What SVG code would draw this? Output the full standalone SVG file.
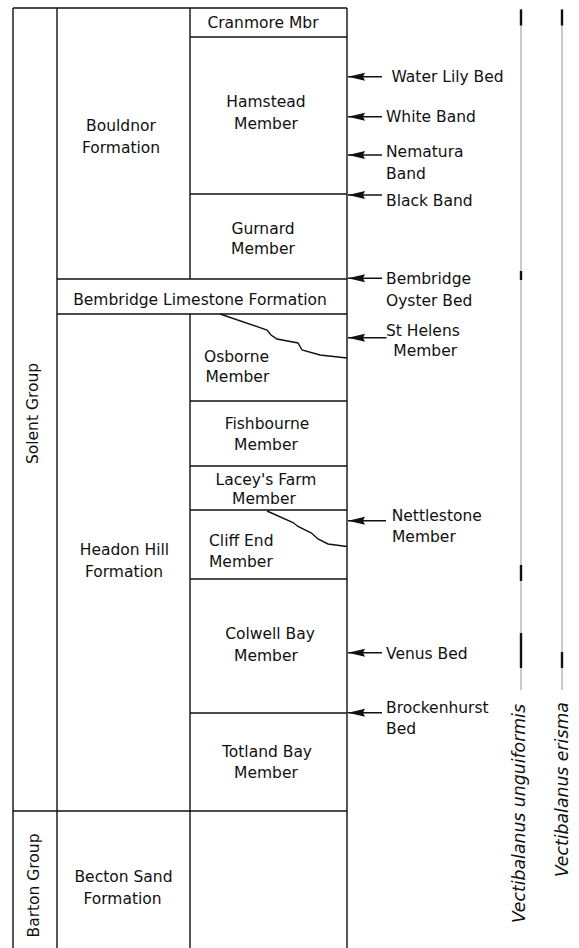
<svg xmlns="http://www.w3.org/2000/svg" width="579" height="948" viewBox="0 0 579 948">
<style>
.ln{stroke:#111;stroke-width:1.4;fill:none}
.t{font-family:"DejaVu Sans",Verdana,sans-serif;font-size:15.5px;fill:#111}
.c{text-anchor:middle}
.sp{font-family:"DejaVu Sans",Verdana,sans-serif;font-size:17.3px;font-style:italic;fill:#111}
.gr{stroke:#bdbdbd;stroke-width:1.6}
.bk{stroke:#111;stroke-width:2.4}
.ar{stroke:#111;stroke-width:1.4}
</style>
<defs>
<marker id="ah" viewBox="0 0 17 9" refX="17" refY="4.5" markerWidth="17" markerHeight="9" orient="auto" markerUnits="userSpaceOnUse">
<path d="M0,0.5 L17,4.5 L0,8.5 L2,4.5 Z" fill="#111"/>
</marker>
</defs>
<rect width="579" height="948" fill="#fff"/>
<g id="frame">
<path class="ln" d="M13,8 H347 M13,8 V948 M57,8 V948 M347,8 V948 M190,8 V279 M190,314 V948"/>
<path class="ln" d="M190,37 H347 M190,194 H347 M57,279 H347 M57,314 H347 M190,401 H347 M190,466 H347 M190,510 H347 M190,579 H347 M190,713 H347 M13,811 H347"/>
<path class="ln" d="M220,314 L267,330 L271,335 L277,339 L298,343 L302,350 L320,355 L347,358"/>
<path class="ln" d="M267,511 L293,522.5 L298,526.5 L311.5,533 L318,539 L328,544 L347,546.5"/>
</g>
<g id="solent-group"><text class="t c" transform="translate(38,413.5) rotate(-90)">Solent Group</text></g>
<g id="barton-group"><text class="t c" transform="translate(38.5,885.5) rotate(-90)">Barton Group</text></g>
<g id="bouldnor"><text class="t c" x="121" y="130.5">Bouldnor</text><text class="t c" x="121" y="153">Formation</text></g>
<g id="cranmore"><text class="t c" x="263" y="28">Cranmore Mbr</text></g>
<g id="hamstead"><text class="t c" x="266" y="106.5">Hamstead</text><text class="t c" x="266" y="129">Member</text></g>
<g id="gurnard"><text class="t c" x="263" y="234">Gurnard</text><text class="t c" x="263" y="254">Member</text></g>
<g id="bembridge-limestone"><text class="t c" x="200" y="305">Bembridge Limestone Formation</text></g>
<g id="osborne"><text class="t" x="204" y="361.5">Osborne</text><text class="t" x="205.5" y="381.5">Member</text></g>
<g id="fishbourne"><text class="t c" x="267" y="429">Fishbourne</text><text class="t c" x="266" y="450">Member</text></g>
<g id="laceys-farm"><text class="t c" x="266" y="485">Lacey's Farm</text><text class="t c" x="264" y="504">Member</text></g>
<g id="cliff-end"><text class="t" x="209" y="546">Cliff End</text><text class="t" x="209" y="567">Member</text></g>
<g id="headon-hill"><text class="t c" x="124.5" y="555">Headon Hill</text><text class="t c" x="124" y="577">Formation</text></g>
<g id="colwell-bay"><text class="t c" x="270" y="639">Colwell Bay</text><text class="t c" x="266" y="661">Member</text></g>
<g id="totland-bay"><text class="t c" x="267" y="757">Totland Bay</text><text class="t c" x="266" y="778">Member</text></g>
<g id="becton-sand"><text class="t c" x="123.5" y="882">Becton Sand</text><text class="t c" x="122.5" y="904">Formation</text></g>
<g id="connectors">
<line class="ar" x1="382" y1="76.7" x2="348" y2="76.7" marker-end="url(#ah)"/>
<line class="ar" x1="382" y1="116.7" x2="348" y2="116.7" marker-end="url(#ah)"/>
<line class="ar" x1="382" y1="155" x2="348" y2="155" marker-end="url(#ah)"/>
<line class="ar" x1="382" y1="195" x2="348" y2="195" marker-end="url(#ah)"/>
<line class="ar" x1="382" y1="278.3" x2="348" y2="278.3" marker-end="url(#ah)"/>
<line class="ar" x1="386.5" y1="337.7" x2="348" y2="337.7" marker-end="url(#ah)"/>
<line class="ar" x1="386" y1="520.7" x2="348" y2="520.7" marker-end="url(#ah)"/>
<line class="ar" x1="382" y1="652.7" x2="348" y2="652.7" marker-end="url(#ah)"/>
<line class="ar" x1="382" y1="712.7" x2="348" y2="712.7" marker-end="url(#ah)"/>
</g>
<g id="water-lily-bed"><text class="t" x="391.5" y="81.7">Water Lily Bed</text></g>
<g id="white-band"><text class="t" x="386" y="122.3">White Band</text></g>
<g id="nematura-band"><text class="t" x="386" y="157.3">Nematura</text><text class="t" x="386" y="179">Band</text></g>
<g id="black-band"><text class="t" x="386" y="205.7">Black Band</text></g>
<g id="bembridge-oyster-bed"><text class="t" x="386" y="284.3">Bembridge</text><text class="t" x="386" y="305.7">Oyster Bed</text></g>
<g id="st-helens"><text class="t" x="386" y="335.7">St Helens</text><text class="t" x="393.3" y="355.7">Member</text></g>
<g id="nettlestone"><text class="t" x="391.7" y="520.7">Nettlestone</text><text class="t" x="392" y="542.3">Member</text></g>
<g id="venus-bed"><text class="t" x="386" y="659">Venus Bed</text></g>
<g id="brockenhurst-bed"><text class="t" x="386" y="713.3">Brockenhurst</text><text class="t" x="386" y="734">Bed</text></g>
<g id="unguiformis">
<line class="gr" x1="521" y1="9" x2="521" y2="690"/>
<line class="bk" x1="521" y1="9.5" x2="521" y2="25.5"/>
<line class="bk" x1="521" y1="271" x2="521" y2="280"/>
<line class="bk" x1="521" y1="565" x2="521" y2="581"/>
<line class="bk" x1="521" y1="633" x2="521" y2="668"/>
<text class="sp" transform="translate(524.7,923) rotate(-90)">Vectibalanus unguiformis</text>
</g>
<g id="erisma">
<line class="gr" x1="562" y1="9" x2="562" y2="690"/>
<line class="bk" x1="562" y1="9.5" x2="562" y2="25.5"/>
<line class="bk" x1="562" y1="652" x2="562" y2="668"/>
<text class="sp" transform="translate(568,877) rotate(-90)">Vectibalanus erisma</text>
</g>
</svg>
